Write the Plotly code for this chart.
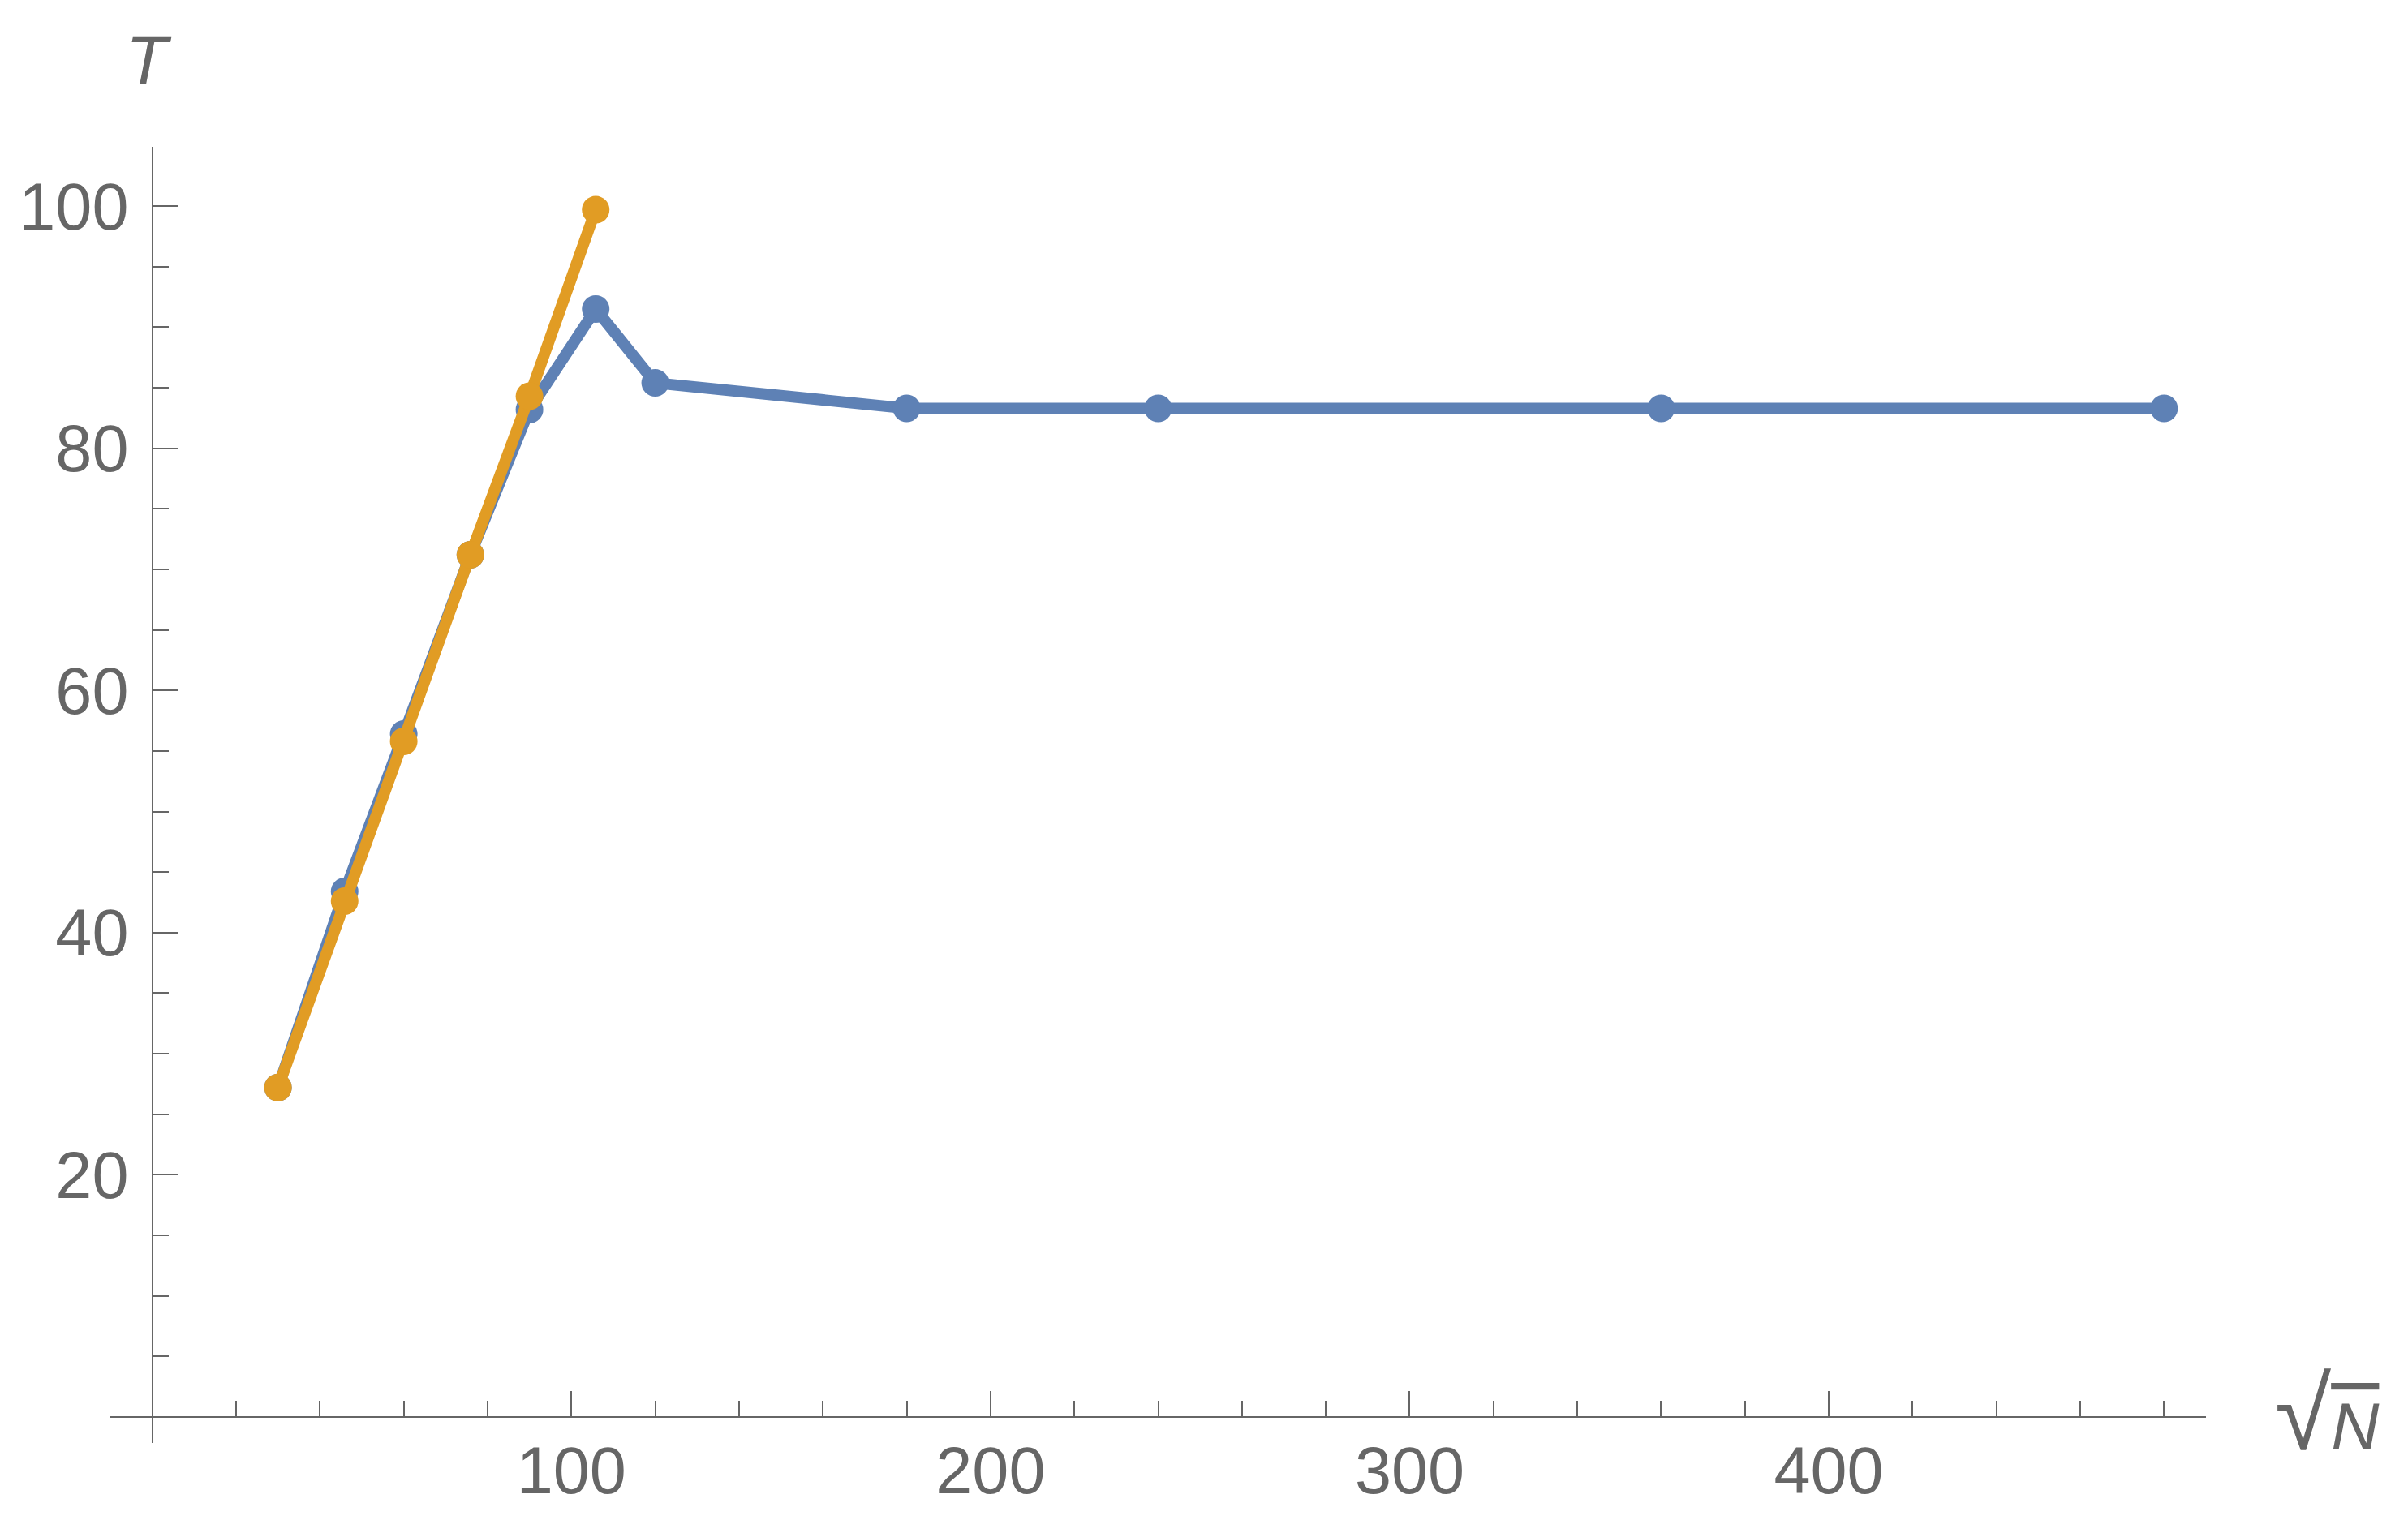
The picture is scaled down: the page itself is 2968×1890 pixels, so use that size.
import plotly.graph_objects as go

# data
x_orange = [30, 45.9, 60, 75.9, 90, 105.8]
t_orange = [27.2, 42.6, 55.8, 71.2, 84.3, 99.7]

x_blue = [30, 45.9, 60, 75.9, 90, 105.8, 120, 180, 240, 360, 480]
t_blue = [27.2, 43.4, 56.4, 71.2, 83.2, 91.5, 85.4, 83.3, 83.3, 83.3, 83.3]

x_major = [100, 200, 300, 400]
x_minor = [v for v in range(20, 481, 20) if v % 100 != 0]
y_major = [20, 40, 60, 80, 100]
y_minor = [v for v in range(5, 101, 5) if v % 20 != 0]

BLUE = "#5E81B5"
ORANGE = "#E19C24"
GRAY = "#666666"
FONT = "Liberation Sans, Arial, sans-serif"

fig = go.Figure()
fig.add_trace(go.Scatter(x=x_blue, y=t_blue, mode="lines+markers",
                         line=dict(color=BLUE, width=14),
                         marker=dict(color=BLUE, size=34), showlegend=False))
fig.add_trace(go.Scatter(x=x_orange, y=t_orange, mode="lines+markers",
                         line=dict(color=ORANGE, width=14),
                         marker=dict(color=ORANGE, size=34), showlegend=False))

xr = [-10, 490]
yr = [-2.15, 104.9]

fig.update_layout(
    width=2968, height=1890,
    margin=dict(l=136, r=249, t=181, b=111, pad=0),
    paper_bgcolor="white", plot_bgcolor="white",
    font=dict(family=FONT, size=81, color=GRAY),
    xaxis=dict(range=xr, showgrid=False, zeroline=False,
               showline=True, linecolor=GRAY, linewidth=2,
               anchor="free", position=(0 - yr[0]) / (yr[1] - yr[0]),
               tickmode="array", tickvals=x_major,
               ticktext=[str(v) for v in x_major],
               ticks="inside", ticklen=31, tickwidth=2, tickcolor=GRAY,
               tickfont=dict(family=FONT, size=81, color=GRAY),
               ticklabelstandoff=-4,
               minor=dict(tickmode="array", tickvals=x_minor, ticks="inside",
                          ticklen=19, tickwidth=2, tickcolor=GRAY)),
    yaxis=dict(range=yr, showgrid=False, zeroline=False,
               showline=True, linecolor=GRAY, linewidth=2,
               anchor="free", position=(0 - xr[0]) / (xr[1] - xr[0]),
               tickmode="array", tickvals=y_major,
               ticktext=[str(v) for v in y_major],
               ticks="inside", ticklen=31, tickwidth=2, tickcolor=GRAY,
               tickfont=dict(family=FONT, size=81, color=GRAY),
               ticklabelstandoff=12,
               minor=dict(tickmode="array", tickvals=y_minor, ticks="inside",
                          ticklen=19, tickwidth=2, tickcolor=GRAY)),
    annotations=[
        dict(text="<i>T</i>", xref="paper", yref="paper", x=0.0182, y=1.067,
             xanchor="center", yanchor="middle", showarrow=False,
             font=dict(family=FONT, size=84, color=GRAY)),
        dict(text="<span style='font-size:126px'>√</span><span style='text-decoration:overline'><i>N</i></span>",
             xref="paper", yref="paper", x=1.0577, y=0.0225,
             xanchor="center", yanchor="middle", showarrow=False,
             font=dict(family=FONT, size=82, color=GRAY)),
    ],
)

fig.write_html(
    "out.html",
    config={"displayModeBar": False},
    post_script="document.body.style.margin='0';document.body.style.overflow='hidden';",
)
